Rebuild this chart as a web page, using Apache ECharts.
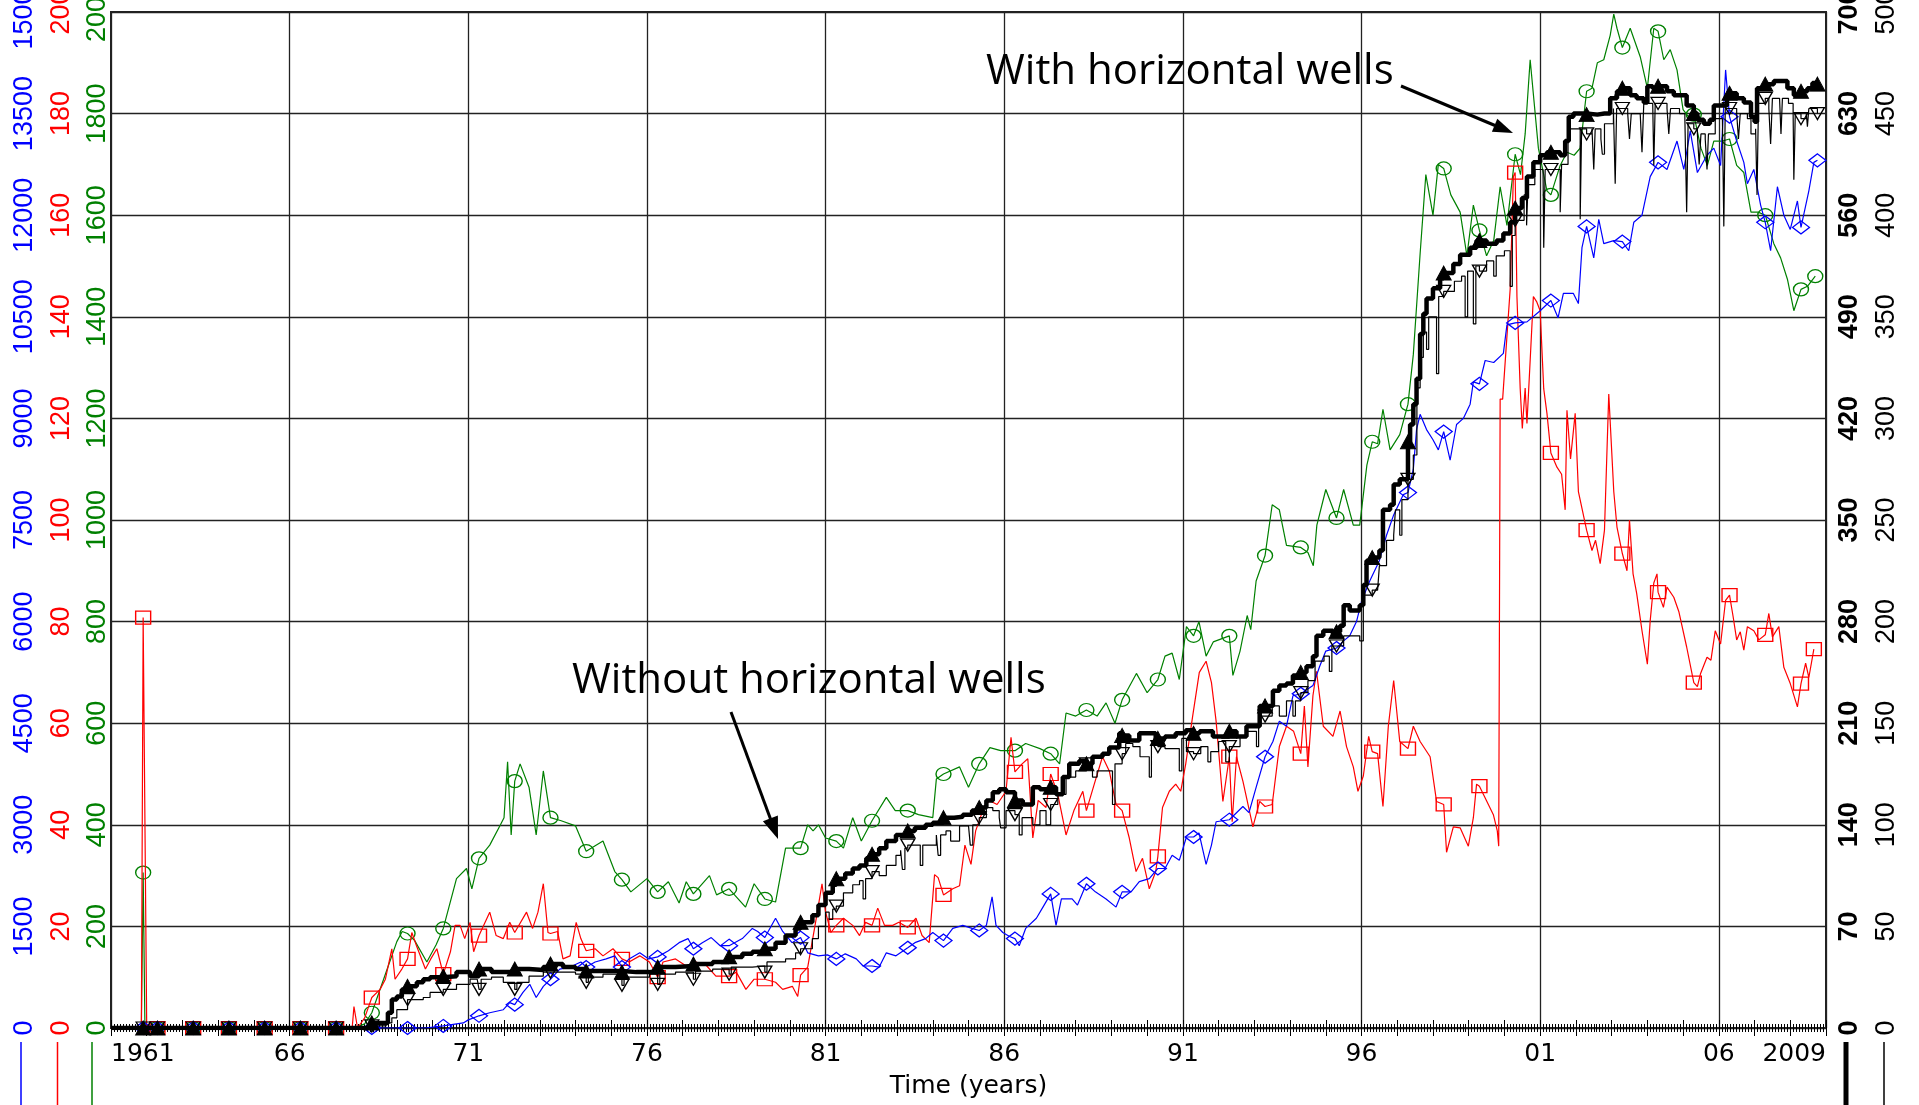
<!DOCTYPE html>
<html><head><meta charset="utf-8">
<script src="https://cdn.jsdelivr.net/npm/echarts@6/dist/echarts.min.js"></script>
<style>html,body{margin:0;padding:0;background:#fff}#c{width:1919px;height:1105px}</style>
</head><body><div id="c"></div>
<script>
// ---- axis ranges / tick labels ----
const yearMin = 1961, yearMax = 2009;
const blueMax = 15000, redMax = 200, greenMax = 2000, boldMax = 700, thinMax = 500;
const annotations = ['With horizontal wells', 'Without horizontal wells'];
const xTitle = 'Time (years)';

// ---- series values [year, value] ----
const blueSeries = [[1961,0],[1961.9,0],[1962.3,0],[1963.3,0],[1964.3,0],[1965.3,0],[1966.3,0],[1967.3,0],[1968.3,0],[1969.3,0],[1969.8,0],[1970.3,30],[1970.86,75],[1971,120],[1971.3,180],[1971.6,225],[1971.98,270],[1972.16,375],[1972.3,345],[1972.53,525],[1972.72,645],[1972.9,450],[1973.1,615],[1973.3,720],[1973.56,870],[1973.85,900],[1974.15,975],[1974.3,900],[1974.55,975],[1974.86,1020],[1975.1,1065],[1975.3,900],[1975.5,1020],[1975.8,1110],[1976.05,1020],[1976.3,1050],[1976.6,1140],[1976.9,1260],[1977.15,1320],[1977.3,1170],[1977.55,1260],[1977.8,1335],[1978.05,1215],[1978.3,1215],[1978.67,1320],[1978.95,1470],[1979.1,1425],[1979.3,1335],[1979.6,1620],[1979.8,1425],[1980.06,1260],[1980.3,1335],[1980.5,1110],[1980.8,1065],[1981.05,1080],[1981.3,1020],[1981.55,1095],[1981.86,1020],[1982.05,915],[1982.3,915],[1982.5,900],[1982.7,1110],[1982.97,1065],[1983.3,1185],[1983.5,1260],[1983.8,1320],[1984,1410],[1984.3,1290],[1984.56,1470],[1984.84,1515],[1985.1,1470],[1985.3,1440],[1985.5,1515],[1985.66,1935],[1985.77,1515],[1985.96,1410],[1986.15,1350],[1986.3,1320],[1986.42,1215],[1986.6,1470],[1986.9,1620],[1987.1,1800],[1987.3,1980],[1987.45,1515],[1987.6,1905],[1987.9,1905],[1988.05,1815],[1988.3,2130],[1988.55,2010],[1988.85,1905],[1989.13,1785],[1989.3,2010],[1989.55,2010],[1989.78,2160],[1990.06,2205],[1990.3,2355],[1990.5,2355],[1990.7,2550],[1990.9,2475],[1991.1,2820],[1991.3,2820],[1991.45,2880],[1991.65,2415],[1991.8,2700],[1991.93,3045],[1992.3,3075],[1992.68,3270],[1992.85,3180],[1993.06,3570],[1993.3,4005],[1993.52,4230],[1993.7,4530],[1993.9,4455],[1994.08,4905],[1994.3,4935],[1994.64,5055],[1994.83,5340],[1995,5565],[1995.3,5610],[1995.5,5715],[1995.67,5790],[1995.86,6000],[1996,6300],[1996.23,6600],[1996.5,6900],[1996.7,7275],[1996.9,7575],[1997.17,7875],[1997.3,7905],[1997.45,8250],[1997.54,8835],[1997.64,9060],[1997.82,8835],[1998,8685],[1998.15,8535],[1998.3,8805],[1998.48,8385],[1998.66,8910],[1998.85,9000],[1999.04,9210],[1999.13,9540],[1999.3,9510],[1999.46,9855],[1999.7,9825],[1999.97,9960],[2000.07,10380],[2000.3,10410],[2000.63,10425],[2001,10590],[2001.3,10740],[2001.5,10485],[2001.65,10845],[2001.93,10845],[2002.07,10695],[2002.17,11520],[2002.3,11835],[2002.5,11370],[2002.64,11940],[2002.78,11580],[2003.06,11625],[2003.3,11610],[2003.48,11475],[2003.62,11895],[2003.85,12000],[2004.08,12570],[2004.3,12780],[2004.55,12675],[2004.83,13095],[2005.02,12675],[2005.2,13245],[2005.4,12630],[2005.67,12885],[2005.86,12990],[2006.05,12735],[2006.19,14145],[2006.3,13455],[2006.5,13095],[2006.7,12780],[2006.8,12465],[2006.98,12675],[2007.17,12150],[2007.3,11895],[2007.45,11475],[2007.64,12420],[2007.82,12000],[2008,11790],[2008.2,12210],[2008.3,11820],[2008.52,12360],[2008.66,12780],[2008.76,12810]];

const redSeries = [[1961,0],[1961.85,0],[1961.9,80.8],[1962,0],[1962.3,0],[1963.3,0],[1964.3,0],[1965.3,0],[1966.3,0],[1967.3,0],[1967.75,0],[1967.8,4.2],[1967.9,0],[1968.1,2],[1968.3,6],[1968.53,7.6],[1968.68,9.6],[1968.86,15.6],[1968.95,9.6],[1969.14,11.6],[1969.3,13.6],[1969.42,18.8],[1969.55,16.2],[1969.8,11.6],[1969.95,13.6],[1970.12,15.6],[1970.3,10.6],[1970.5,15],[1970.63,20.2],[1970.77,20.2],[1970.9,17.6],[1971.05,20.8],[1971.15,15],[1971.3,18.2],[1971.6,22.8],[1971.78,18.2],[1971.98,17.6],[1972.16,20.8],[1972.3,18.8],[1972.63,22.8],[1972.8,19.6],[1972.95,22.8],[1973.1,28.4],[1973.23,18.8],[1973.3,18.6],[1973.5,19],[1973.65,13.6],[1973.85,14.2],[1974.02,20.8],[1974.15,17.6],[1974.3,15.2],[1974.55,15.6],[1974.77,14.2],[1975.05,15.6],[1975.3,13.6],[1975.5,13],[1975.8,14.2],[1976.07,13],[1976.3,10],[1976.45,13],[1976.8,13.6],[1977.1,12.2],[1977.37,13],[1977.65,12.4],[1977.93,10.2],[1978.3,10.2],[1978.5,11],[1978.77,7.6],[1979,9.6],[1979.3,9.6],[1979.6,9],[1979.8,7.6],[1980.07,8.2],[1980.22,6.2],[1980.3,10.4],[1980.5,12],[1980.72,20.8],[1980.9,28.4],[1981,22.8],[1981.15,18.8],[1981.3,20.2],[1981.5,21.6],[1981.76,20.2],[1981.95,18.2],[1982.12,20.8],[1982.3,20.2],[1982.46,23.6],[1982.65,20.2],[1982.88,20.2],[1983.05,20.8],[1983.3,19.8],[1983.53,21.6],[1983.7,18.2],[1983.9,16.8],[1984.05,30.2],[1984.15,29.6],[1984.3,26.2],[1984.56,27.4],[1984.75,28],[1984.9,36],[1985.07,32.2],[1985.2,38.8],[1985.4,42.8],[1985.58,44.8],[1985.8,44],[1986.05,46.6],[1986.19,57.2],[1986.3,50.4],[1986.5,52],[1986.66,53],[1986.8,37.4],[1986.95,44.8],[1987.17,43.4],[1987.3,50],[1987.5,46],[1987.73,38],[1987.95,42.8],[1988.2,46.6],[1988.3,42.8],[1988.52,48],[1988.75,53.4],[1988.94,50.6],[1989.13,44],[1989.3,42.8],[1989.5,37.4],[1989.69,30.8],[1989.87,33.4],[1990.06,27.4],[1990.24,30.8],[1990.3,33.8],[1990.43,43.4],[1990.62,46.6],[1990.8,48],[1990.94,46.6],[1991.08,52],[1991.27,61.2],[1991.46,70],[1991.65,72.2],[1991.8,68],[1991.93,60.4],[1992.12,44.6],[1992.3,53.4],[1992.38,40.6],[1992.5,53.4],[1992.68,48.6],[1992.96,39.6],[1993.15,44.6],[1993.3,43.6],[1993.5,44],[1993.7,55.4],[1993.9,59.4],[1994.1,58.4],[1994.3,54],[1994.4,63.4],[1994.5,51.4],[1994.64,65.4],[1994.74,70.2],[1994.93,59.4],[1995.2,57.4],[1995.4,62.4],[1995.58,55.4],[1995.77,51.4],[1995.9,46.6],[1996.05,49.6],[1996.2,57.4],[1996.3,54.4],[1996.45,54],[1996.6,43.6],[1996.75,59.4],[1996.9,68.4],[1997.07,56.4],[1997.3,55],[1997.45,59.4],[1997.64,56.4],[1997.92,53.4],[1998.1,44.6],[1998.3,44],[1998.38,34.6],[1998.57,39.6],[1998.76,39.4],[1998.99,35.8],[1999.13,41.4],[1999.22,48],[1999.3,47.6],[1999.41,46],[1999.55,44],[1999.69,42],[1999.8,38.8],[1999.84,35.8],[1999.88,123.8],[1999.95,123.8],[2000.16,145.4],[2000.25,167.6],[2000.3,168.4],[2000.35,144],[2000.44,126],[2000.5,118],[2000.58,126],[2000.63,119],[2000.72,131.4],[2000.81,144],[2000.9,143],[2001,141.2],[2001.1,125.8],[2001.19,121],[2001.3,113.2],[2001.47,110.4],[2001.6,109],[2001.7,102],[2001.75,121.6],[2001.85,112],[2001.98,121],[2002.07,105.6],[2002.3,98],[2002.45,94],[2002.55,96],[2002.68,91.4],[2002.8,98],[2002.92,124.8],[2003.06,105.6],[2003.15,98.6],[2003.3,93.4],[2003.43,90],[2003.5,100],[2003.6,89.4],[2003.7,85.6],[2003.85,78.2],[2004,71.6],[2004.08,80.2],[2004.18,87.6],[2004.27,89.4],[2004.3,85.8],[2004.45,82.8],[2004.55,86.8],[2004.74,84.8],[2004.88,82],[2005.1,75],[2005.3,68],[2005.4,67.2],[2005.49,69.8],[2005.67,73],[2005.78,72.4],[2005.9,78.2],[2006.05,75.6],[2006.19,84.2],[2006.3,85.2],[2006.4,81],[2006.5,76.4],[2006.6,78],[2006.7,74.4],[2006.8,79],[2006.98,78.2],[2007.12,76.4],[2007.3,77.4],[2007.4,81.6],[2007.5,77],[2007.68,79],[2007.82,71],[2008,67.8],[2008.2,63.2],[2008.3,67.8],[2008.43,71.8],[2008.52,69],[2008.66,74.6]];

const greenSeries = [[1961,0],[1961.85,0],[1961.9,306],[1961.95,0],[1962.3,0],[1963.3,0],[1964.3,0],[1965.3,0],[1966.3,0],[1967.3,0],[1967.8,0],[1968.1,8],[1968.3,30],[1968.5,70],[1968.75,120],[1969,170],[1969.15,190],[1969.3,186],[1969.5,172],[1969.84,130],[1970.1,164],[1970.3,196],[1970.67,294],[1970.95,314],[1971.1,274],[1971.3,334],[1971.6,360],[1971.9,400],[1972,414],[1972.1,524],[1972.2,380],[1972.3,486],[1972.45,520],[1972.7,474],[1972.9,380],[1973.1,506],[1973.3,414],[1973.6,408],[1974,398],[1974.3,348],[1974.77,368],[1975.1,308],[1975.3,292],[1975.55,268],[1976,294],[1976.3,268],[1976.6,288],[1976.9,246],[1977.1,288],[1977.3,264],[1977.75,300],[1977.95,262],[1978.3,274],[1978.76,238],[1979,284],[1979.3,254],[1979.6,248],[1979.88,354],[1980.3,354],[1980.5,400],[1980.65,388],[1980.8,400],[1981,374],[1981.3,368],[1981.5,354],[1981.76,414],[1982,368],[1982.3,408],[1982.7,454],[1982.95,428],[1983.3,428],[1983.6,420],[1984,414],[1984.1,490],[1984.3,500],[1984.75,514],[1985,474],[1985.3,520],[1985.6,552],[1985.9,546],[1986.3,546],[1986.6,560],[1987,550],[1987.3,540],[1987.55,520],[1987.73,620],[1988,614],[1988.3,626],[1988.6,614],[1988.85,640],[1989.1,600],[1989.3,646],[1989.7,698],[1990,660],[1990.3,686],[1990.5,732],[1990.7,738],[1990.9,686],[1991.1,790],[1991.3,772],[1991.45,800],[1991.65,732],[1991.85,760],[1992.3,772],[1992.4,694],[1992.6,742],[1992.8,812],[1992.9,784],[1993.05,880],[1993.3,930],[1993.5,1030],[1993.7,1020],[1993.9,950],[1994.3,946],[1994.5,936],[1994.65,910],[1994.75,990],[1995,1060],[1995.3,1004],[1995.5,1060],[1995.77,990],[1995.95,990],[1996.15,1108],[1996.3,1154],[1996.45,1150],[1996.6,1218],[1996.8,1138],[1997.07,1168],[1997.3,1228],[1997.45,1326],[1997.64,1524],[1997.8,1680],[1998,1600],[1998.15,1700],[1998.3,1692],[1998.5,1640],[1998.76,1606],[1998.95,1520],[1999.13,1620],[1999.3,1570],[1999.5,1520],[1999.7,1550],[1999.88,1656],[2000.07,1580],[2000.3,1720],[2000.45,1680],[2000.58,1760],[2000.72,1906],[2000.95,1732],[2001.19,1648],[2001.3,1640],[2001.56,1698],[2001.75,1724],[2001.95,1718],[2002.12,1732],[2002.3,1844],[2002.45,1850],[2002.6,1900],[2002.78,1906],[2002.96,1954],[2003.06,1996],[2003.15,1968],[2003.3,1930],[2003.52,1968],[2003.8,1912],[2004,1850],[2004.18,1968],[2004.3,1962],[2004.46,1906],[2004.64,1926],[2004.83,1886],[2005,1808],[2005.15,1794],[2005.3,1798],[2005.5,1732],[2005.68,1698],[2005.86,1746],[2006.1,1746],[2006.3,1750],[2006.5,1698],[2006.7,1684],[2006.9,1606],[2007.1,1606],[2007.3,1600],[2007.54,1544],[2007.73,1516],[2007.92,1474],[2008.1,1412],[2008.3,1454],[2008.48,1460],[2008.7,1480]];

const boldSeries = [[1961,0],[1961.9,0],[1962.3,0],[1963.3,0],[1964.3,0],[1965.3,0],[1966.3,0],[1967.3,0],[1968.3,3.5],[1968.6,3.5],[1968.75,10.5],[1968.86,19.6],[1969,21.7],[1969.14,26.6],[1969.3,28.7],[1969.56,31.5],[1969.74,33.6],[1969.93,35],[1970.3,35.7],[1970.67,38.5],[1971.05,35.7],[1971.3,40.6],[1971.65,38.5],[1971.98,38.5],[1972.3,40.6],[1972.7,39.9],[1973.1,42],[1973.3,44.1],[1973.65,42],[1974,40.6],[1974.3,39.2],[1974.77,39.2],[1975.3,38.5],[1975.7,38.5],[1976.07,39.2],[1976.3,42],[1976.8,42.7],[1977.3,44.1],[1977.84,45.5],[1978.3,49],[1978.67,51.1],[1978.95,52.5],[1979.3,54.6],[1979.6,58.8],[1979.88,63.7],[1980.16,68.6],[1980.3,72.8],[1980.63,77.7],[1980.8,84.7],[1981,93.1],[1981.2,98.7],[1981.3,102.9],[1981.55,106.4],[1981.76,109.9],[1981.95,112],[1982.14,116.9],[1982.3,119.7],[1982.5,123.9],[1982.7,128.8],[1982.97,133],[1983.3,135.8],[1983.5,137.9],[1983.8,140],[1984,141.4],[1984.3,144.9],[1984.6,145.6],[1984.84,147],[1985.1,149.8],[1985.3,151.9],[1985.5,156.8],[1985.68,162.4],[1985.86,164.5],[1986.05,162.4],[1986.3,156.8],[1986.52,154],[1986.8,165.9],[1987,164.5],[1987.3,165.9],[1987.45,161],[1987.64,172.9],[1987.82,182],[1988.1,184.1],[1988.3,182],[1988.47,186.9],[1988.75,189],[1988.94,193.2],[1989.22,203],[1989.3,201.6],[1989.5,198.1],[1989.78,203],[1990,203],[1990.24,198.1],[1990.3,199.5],[1990.5,200.9],[1990.8,203],[1991.08,205.1],[1991.3,203],[1991.47,204.4],[1991.84,200.9],[1992.3,204.4],[1992.5,200.9],[1992.78,207.9],[1993.15,221.9],[1993.3,221.9],[1993.52,232.4],[1993.7,235.9],[1993.9,237.3],[1994.08,242.9],[1994.3,245],[1994.46,249.2],[1994.64,256.2],[1994.74,270.2],[1994.93,273.7],[1995.2,270.2],[1995.3,273],[1995.4,277.2],[1995.5,291.2],[1995.67,287.7],[1995.95,291.2],[1996.05,305.2],[1996.14,322],[1996.3,324.1],[1996.5,329],[1996.6,357],[1996.8,360.5],[1996.9,374.5],[1997.07,378],[1997.3,403.9],[1997.36,415.8],[1997.45,429.8],[1997.54,447.3],[1997.64,478.1],[1997.73,492.1],[1997.82,502.6],[1998,509.6],[1998.2,516.6],[1998.3,520.1],[1998.57,526.4],[1998.76,532.7],[1999.04,537.6],[1999.22,542.5],[1999.3,542.5],[1999.5,540.4],[1999.78,542.5],[1999.97,547.4],[2000.16,555.1],[2000.3,564.9],[2000.49,571.9],[2000.63,586.6],[2000.81,596.4],[2001,601.3],[2001.19,603.4],[2001.3,603.4],[2001.56,601.3],[2001.7,611.1],[2001.8,627.9],[2001.93,630],[2002.12,630],[2002.3,629.3],[2002.6,630],[2002.8,630],[2002.96,640.5],[2003.15,645.4],[2003.3,647.5],[2003.52,642.6],[2003.7,640.5],[2003.9,637.7],[2004,648.9],[2004.15,647.5],[2004.3,648.9],[2004.55,645.4],[2004.74,642.6],[2004.9,642.6],[2005.1,635.6],[2005.3,630],[2005.4,625.8],[2005.58,623],[2005.75,625.8],[2005.86,635.6],[2006.05,635.6],[2006.23,642.6],[2006.3,644],[2006.5,640.5],[2006.7,637.7],[2006.9,627.9],[2007,624.4],[2007.07,647.5],[2007.26,650.3],[2007.3,650.3],[2007.54,652.4],[2007.73,652.4],[2007.92,647.5],[2008.1,642.6],[2008.3,645.4],[2008.48,647.5],[2008.62,651],[2008.76,650.3]];

const thinSeries = [[1961,0],[1961.9,0],[1962.3,0],[1963.3,0],[1964.3,0],[1965.3,0],[1966.3,0],[1967.3,0],[1968.3,1],[1968.7,2.5],[1968.86,5],[1969,9],[1969.3,14],[1969.74,15],[1969.93,17.5],[1970.3,19],[1970.67,21.5],[1971.05,24],[1971.25,24],[1971.3,19],[1971.36,24],[1971.65,25],[1971.98,22.5],[1972.3,19],[1972.36,22.5],[1972.7,25.5],[1973.1,27.5],[1973.3,27.5],[1973.6,27.5],[1974,26.5],[1974.3,22.5],[1974.36,25],[1974.77,26.5],[1975.3,21],[1975.36,25],[1975.7,25],[1976.07,26.5],[1976.3,21.5],[1976.36,26.5],[1976.8,27.5],[1977.3,24],[1977.36,28],[1977.84,29],[1978.3,26.5],[1978.36,30],[1978.95,30.5],[1979.3,27.5],[1979.36,32.5],[1979.88,34],[1980.16,37],[1980.3,39],[1980.63,44],[1980.8,50],[1981,57],[1981.1,53.5],[1981.2,58.5],[1981.3,60],[1981.5,66.5],[1981.76,70.5],[1981.95,72.5],[1982.05,63.5],[1982.12,73.5],[1982.3,77],[1982.5,75],[1982.7,80],[1982.97,85],[1983.1,87.5],[1983.15,78],[1983.22,88.5],[1983.3,90],[1983.5,90],[1983.65,80],[1983.72,90],[1984.1,95],[1984.15,85],[1984.22,95],[1984.37,97],[1984.5,92],[1984.75,99.5],[1985,100],[1985.05,90],[1985.12,100],[1985.3,103.5],[1985.5,108.5],[1985.68,107],[1985.86,103.5],[1985.9,98.5],[1986.05,107],[1986.3,105],[1986.42,95],[1986.5,103.5],[1986.8,100],[1987,107],[1987.17,100],[1987.3,110],[1987.5,115],[1987.73,123.5],[1988,126.5],[1988.3,130],[1988.47,123.5],[1988.6,126.5],[1988.85,126.5],[1989.03,110],[1989.1,130],[1989.3,135],[1989.4,140],[1989.6,138.5],[1989.8,133.5],[1990.06,123.5],[1990.12,140],[1990.3,138.5],[1990.5,137.5],[1990.9,126.5],[1990.97,142.5],[1991.1,136],[1991.3,135],[1991.5,138.5],[1991.7,131],[1991.78,136],[1992,141],[1992.2,131],[1992.3,138.5],[1992.6,143.5],[1992.8,146],[1993.06,138.5],[1993.12,153.5],[1993.3,153.5],[1993.5,158.5],[1993.7,153.5],[1993.9,161],[1994.08,153.5],[1994.15,161],[1994.3,165],[1994.5,171],[1994.7,180.5],[1994.95,183],[1995.1,175.5],[1995.17,188],[1995.3,188],[1995.5,193],[1995.8,193],[1995.95,190.5],[1996.05,213],[1996.3,215.5],[1996.45,215.5],[1996.5,227.5],[1996.7,240],[1996.9,242.5],[1996.95,255],[1997.07,242.5],[1997.13,260],[1997.3,270],[1997.45,282],[1997.55,315],[1997.64,330],[1997.73,342.5],[1997.82,334],[1997.88,350],[1998.1,322],[1998.16,360],[1998.3,362.5],[1998.6,367.5],[1998.8,370],[1998.9,350],[1998.97,372.5],[1999.13,346.5],[1999.2,375],[1999.3,372.5],[1999.5,377.5],[1999.7,370],[1999.77,380],[2000,382.5],[2000.16,365],[2000.22,390],[2000.3,397.5],[2000.55,410],[2000.62,395],[2000.66,415],[2000.85,422.5],[2001.08,422.5],[2001.1,384],[2001.14,422.5],[2001.3,422.5],[2001.5,422.5],[2001.56,401.5],[2001.6,425],[2001.78,442.5],[2002.05,442.5],[2002.12,398],[2002.16,442.5],[2002.3,440],[2002.45,442.5],[2002.5,422.5],[2002.54,442.5],[2002.7,437.5],[2002.74,430],[2002.8,445],[2003.05,452.5],[2003.1,415.5],[2003.14,452.5],[2003.3,452.5],[2003.45,450],[2003.5,437.5],[2003.55,450],[2003.8,450],[2003.85,431],[2003.9,455],[2004.15,455],[2004.18,424.5],[2004.22,455],[2004.3,455],[2004.55,452.5],[2004.6,440],[2004.65,452.5],[2004.9,450],[2005.05,447.5],[2005.1,401.5],[2005.14,445],[2005.3,442.5],[2005.4,440],[2005.45,425],[2005.5,440],[2005.62,437.5],[2005.67,422.5],[2005.71,440],[2005.9,447.5],[2006.1,447.5],[2006.14,394.5],[2006.18,452.5],[2006.3,452.5],[2006.5,450],[2006.55,437.5],[2006.6,450],[2006.8,447.5],[2006.9,440],[2007.03,442.5],[2007.07,410],[2007.11,455],[2007.3,457.5],[2007.4,452.5],[2007.45,435],[2007.5,457.5],[2007.7,457.5],[2007.74,440],[2007.78,457.5],[2007.95,455],[2008.08,450],[2008.1,417.5],[2008.14,450],[2008.3,447.5],[2008.45,450],[2008.48,443.5],[2008.52,452.5],[2008.7,452.5],[2008.76,450]];

// ---- styling ----
const BLUE = '#0000ff', RED = '#ff0000', GREEN = '#008000', BLACK = '#000000';
const yFont = "'Liberation Sans', Arial, sans-serif";
const xFont = "'DejaVu Sans', sans-serif";

function markFn(data, sym) {
  const n = data.length;
  return function (value, params) {
    const x = value[0], i = params.dataIndex;
    const f = x - Math.floor(x);
    const on = i === n - 1 || Math.abs(x - 1961.9) < 1e-4 || Math.abs(f - 0.3) < 1e-4;
    return on ? sym : 'none';
  };
}

function lineSeries(data, yIdx, color, sym, size, opts) {
  return Object.assign({
    type: 'line', data: data, xAxisIndex: 0, yAxisIndex: yIdx,
    symbol: markFn(data, sym), symbolSize: size, showSymbol: true, showAllSymbol: true,
    lineStyle: { color: color, width: 1.2 },
    itemStyle: { color: 'rgba(0,0,0,0)', borderColor: color, borderWidth: 1.3 },
    silent: true, animation: false, clip: true
  }, opts || {});
}

function yAx(max, color, margin, pos, bold, split) {
  return {
    type: 'value', min: 0, max: max, interval: max / 10, position: pos,
    axisLine: { show: false }, axisTick: { show: false },
    splitLine: { show: !!split, lineStyle: { color: '#222', width: 1.3 } },
    axisLabel: { rotate: 90, margin: margin, color: color, fontFamily: yFont, fontSize: 27,
      fontWeight: bold ? 'bold' : 'normal', formatter: v => String(v) }
  };
}

function tickAxis(pos) {
  return {
    type: 'value', min: yearMin, max: yearMax, interval: 1, position: pos,
    axisLine: { show: false }, axisLabel: { show: false }, splitLine: { show: false },
    axisTick: { show: true, inside: true, length: 8, lineStyle: { color: '#000', width: 1 } },
    minorTick: { show: true, splitNumber: 12, length: 4, lineStyle: { color: '#000', width: 1 } }
  };
}

const chart = echarts.init(document.getElementById('c'), null, { renderer: 'canvas' });
chart.setOption({
  animation: false,
  backgroundColor: '#fff',
  grid: { left: 111, right: 93, top: 12, bottom: 77, show: true, borderColor: '#222', borderWidth: 2,
    backgroundColor: 'rgba(0,0,0,0)', containLabel: false, outerBoundsMode: 'none' },
  xAxis: [
    {
      type: 'value', min: yearMin, max: yearMax, interval: 5, position: 'bottom',
      axisLine: { show: false }, axisTick: { show: false },
      splitLine: { show: true, lineStyle: { color: '#222', width: 1.3 } },
      axisLabel: {
        fontFamily: xFont, fontSize: 25, color: '#000', margin: 14,
        alignMinLabel: 'left', alignMaxLabel: 'right',
        formatter: v => (v === yearMin || v === yearMax) ? String(v) : String(v % 100).padStart(2, '0')
      },
      name: xTitle, nameLocation: 'middle', nameGap: 46,
      nameTextStyle: { fontFamily: xFont, fontSize: 25, color: '#000' }
    },
    tickAxis('bottom'),
    tickAxis('top')
  ],
  yAxis: [
    yAx(blueMax, BLUE, 73, 'left', false, false),
    yAx(redMax, RED, 36, 'left', false, false),
    yAx(greenMax, GREEN, 0, 'left', false, true),
    yAx(boldMax, BLACK, 10.5, 'right', true, false),
    yAx(thinMax, BLACK, 47.5, 'right', false, false)
  ],
  series: [
    lineSeries(greenSeries, 2, GREEN, 'circle', [15, 13], { z: 2 }),
    lineSeries(redSeries, 1, RED, 'rect', [15, 13], { z: 3 }),
    lineSeries(blueSeries, 0, BLUE, 'diamond', [17, 13], { z: 4 }),
    lineSeries(thinSeries, 4, BLACK, 'triangle', [14, 12], { z: 5, step: 'end', symbolRotate: 180 }),
    lineSeries(boldSeries, 3, BLACK, 'triangle', [15, 14], {
      z: 6, step: 'end', lineStyle: { color: BLACK, width: 4.5 },
      itemStyle: { color: BLACK, borderColor: BLACK, borderWidth: 1 }
    })
  ],
  graphic: [
    { type: 'line', shape: { x1: 21, y1: 1042, x2: 21, y2: 1105 }, style: { stroke: BLUE, lineWidth: 1.5 } },
    { type: 'line', shape: { x1: 57.5, y1: 1042, x2: 57.5, y2: 1105 }, style: { stroke: RED, lineWidth: 1.5 } },
    { type: 'line', shape: { x1: 92, y1: 1042, x2: 92, y2: 1105 }, style: { stroke: GREEN, lineWidth: 1.5 } },
    { type: 'line', shape: { x1: 1846, y1: 1042, x2: 1846, y2: 1105 }, style: { stroke: BLACK, lineWidth: 5 } },
    { type: 'line', shape: { x1: 1884, y1: 1042, x2: 1884, y2: 1105 }, style: { stroke: BLACK, lineWidth: 1.5 } },
    { type: 'text', x: 986, y: 72, z: 100, style: { text: annotations[0], fontFamily: "'Open Sans', sans-serif", fontSize: 42, fill: '#000', align: 'left', verticalAlign: 'middle' } },
    { type: 'text', x: 572, y: 681, z: 100, style: { text: annotations[1], fontFamily: "'Open Sans', sans-serif", fontSize: 42, fill: '#000', align: 'left', verticalAlign: 'middle' } },
    { type: 'line', z: 100, shape: { x1: 1401, y1: 86, x2: 1495, y2: 125.5 }, style: { stroke: '#000', lineWidth: 3 } },
    { type: 'polygon', z: 100, shape: { points: [[1513, 133], [1491.9, 131.8], [1497.3, 118.8]] }, style: { fill: '#000' } },
    { type: 'line', z: 100, shape: { x1: 731, y1: 712, x2: 770.5, y2: 819 }, style: { stroke: '#000', lineWidth: 3 } },
    { type: 'polygon', z: 100, shape: { points: [[778, 839], [762.9, 821.2], [777.9, 815.6]] }, style: { fill: '#000' } }
  ]
});
</script>
</body></html>
